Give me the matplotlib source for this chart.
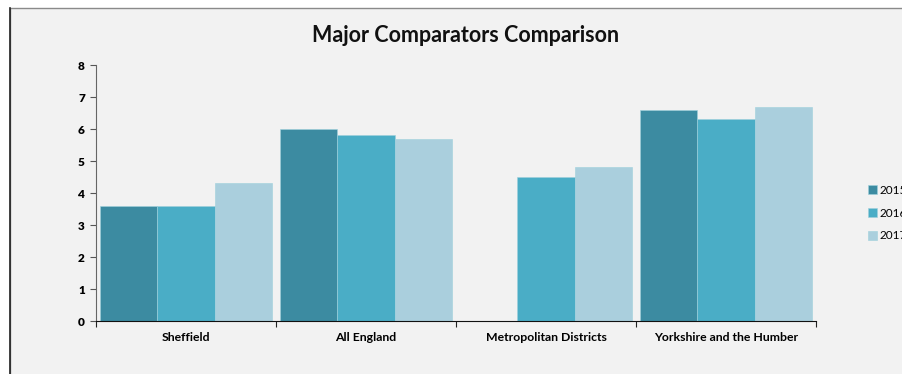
import numpy as np
import matplotlib
matplotlib.use("Agg")
import matplotlib.pyplot as plt
from matplotlib.patches import Rectangle

categories = ["Sheffield", "All England", "Metropolitan Districts", "Yorkshire and the Humber"]
years = ["2015", "2016", "2017"]
values_2015 = [3.6, 6.0, np.nan, 6.6]
values_2016 = [3.6, 5.8, 4.5, 6.3]
values_2017 = [4.3, 5.7, 4.8, 6.7]
colors = ["#3c8ba1", "#4aadc6", "#aacfdd"]

plt.rcParams["font.family"] = ["Lato", "DejaVu Sans"]

W, H = 903, 374
fig = plt.figure(figsize=(W / 100, H / 100), dpi=100, facecolor="white")

# chart area panel with its border, kept behind the axes
fig.patches.append(Rectangle((10 / W, -0.05), 1.0, (H - 8) / H + 0.05,
                             transform=fig.transFigure, facecolor="#f2f2f2",
                             edgecolor="#8a8a8a", linewidth=1.0, zorder=-2))
fig.lines.append(plt.Line2D([10 / W, 10 / W], [0, (H - 8) / H],
                            transform=fig.transFigure, color="#222222", lw=1.2,
                            zorder=-1))

ax = fig.add_axes([96 / W, (H - 321) / H, 720 / W, 256 / H])
ax.set_facecolor("none")
ax.set_zorder(1)

x = np.arange(len(categories))
bw = 0.319
for i, (vals, c) in enumerate(zip([values_2015, values_2016, values_2017], colors)):
    ax.bar(x + (i - 1) * bw, vals, width=bw, color=c, label=years[i],
           edgecolor="#9fd0dc", linewidth=0.4)

ax.set_xlim(-0.5, len(categories) - 0.5)
ax.set_ylim(0, 8)
ax.set_yticks(range(0, 9))
ax.set_yticklabels([str(v) for v in range(0, 9)], fontsize=8.5, fontweight="heavy")

ax.set_xticks(np.arange(-0.5, len(categories), 1.0))
ax.set_xticklabels([])
ax.set_xticks(x, minor=True)
ax.set_xticklabels(categories, minor=True, fontsize=8.8, fontweight="bold")
ax.tick_params(axis="x", which="minor", length=0, pad=8)
ax.tick_params(axis="x", which="major", length=4, color="#222222", direction="out")
ax.tick_params(axis="y", length=4, color="#555555", pad=4)

for s in ["top", "right"]:
    ax.spines[s].set_visible(False)
ax.spines["left"].set_color("#666666")
ax.spines["bottom"].set_color("#111111")

fig.text(466 / W, 1 - 35 / H, "Major Comparators Comparison", ha="center",
         va="center", fontsize=15.5, fontweight="bold", color="#111111")

fig.legend(loc="upper left", bbox_to_anchor=(863 / W, 1 - 180 / H), frameon=False,
           fontsize=8.5, handlelength=0.8, handleheight=0.8, handletextpad=0.2,
           labelspacing=1.0, borderaxespad=0)

fig.savefig("out.png", dpi=100, facecolor=fig.get_facecolor())
